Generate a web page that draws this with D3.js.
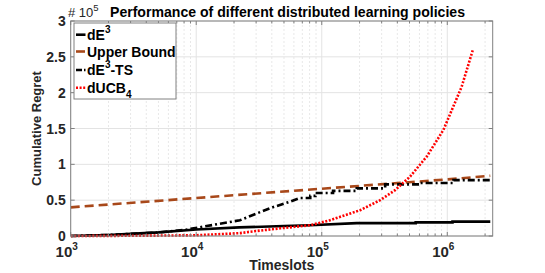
<!DOCTYPE html>
<html lang="en">
<head>
<meta charset="utf-8">
<style>
  body { margin: 0; background: #fff; }
  text { font-family: "Liberation Sans", Arial, sans-serif; }
</style>
</head>
<body>
<div id="chart"></div>
<script src="https://d3js.org/d3.v7.min.js"></script>
<script>
// values, y in units of 1e5
var ubX = [1e3, 1e4, 1e5, 1e6, 2.2e6]
var ubY = [0.40, 0.53, 0.66, 0.79, 0.84]

var de3X = [1e3, 2e3, 3e3, 5e3, 1e4, 2.2e4, 5e4, 8e4, 1.9e5, 5.6e5, 5.6e5, 1.1e6, 1.1e6, 2.2e6]
var de3Y = [0, 0.015, 0.03, 0.05, 0.09, 0.12, 0.14, 0.15, 0.18, 0.18, 0.19, 0.19, 0.2, 0.2]

var tsX = [1e3, 2e3, 3e3, 5e3, 8.4e3, 2.23e4, 2.7e4, 3.9e4, 5.6e4, 6.7e4, 8.1e4, 8.1e4, 8.9e4, 8.9e4,
           1.23e5, 1.23e5, 1.9e5, 1.9e5, 3.2e5, 3.2e5, 6e5, 6e5, 1.12e6, 1.12e6, 2.2e6]
var tsY = [0, 0.015, 0.03, 0.05, 0.09, 0.22, 0.28, 0.39, 0.48, 0.53, 0.53, 0.56, 0.56, 0.60,
           0.60, 0.63, 0.63, 0.665, 0.665, 0.72, 0.72, 0.74, 0.74, 0.78, 0.78]

var ucbX = [1e3, 3e3, 1e4, 2.24e4, 2.7e4, 4.66e4, 8.1e4, 1.16e5, 2.02e5, 2.92e5, 3.84e5, 5.06e5,
            6.87e5, 9.31e5, 1.3e6, 1.6e6]
var ucbY = [0, 0.003, 0.01, 0.04, 0.06, 0.107, 0.15, 0.22, 0.36, 0.5, 0.64, 0.83, 1.11, 1.48, 2.08, 2.6]

var xTicks = [1e3, 1e4, 1e5, 1e6]
var yTicks = [0, 0.5, 1, 1.5, 2, 2.5, 3]
var legendNames = ["dE", "Upper Bound", "dE", "dUCB"]

var width = 545, height = 273
var pLeft = 70.7, pRight = 492.7, pTop = 21, pBottom = 236

var svg = d3.select("#chart").append("svg")
  .attr("width", width).attr("height", height)

var x = d3.scaleLog().domain([1e3, 2.3e6]).range([pLeft, pRight])
var y = d3.scaleLinear().domain([0, 3]).range([pBottom, pTop])

// minor x grid
var minor = []
for (var e = 3; e <= 6; e++) for (var m = 2; m <= 9; m++) {
  var v = m * Math.pow(10, e)
  if (v < 2.3e6) minor.push(v)
}
svg.append("g").selectAll("line").data(minor).enter().append("line")
  .attr("x1", d => x(d)).attr("x2", d => x(d))
  .attr("y1", pTop).attr("y2", pBottom)
  .attr("stroke", "#e8e8e8").attr("stroke-dasharray", "2,2")

svg.append("g").selectAll("line").data(xTicks).enter().append("line")
  .attr("x1", d => x(d)).attr("x2", d => x(d))
  .attr("y1", pTop).attr("y2", pBottom)
  .attr("stroke", "#e3e3e3")

svg.append("g").selectAll("line").data(yTicks).enter().append("line")
  .attr("x1", pLeft).attr("x2", pRight)
  .attr("y1", d => y(d)).attr("y2", d => y(d))
  .attr("stroke", "#e3e3e3")

// series
function pts(xs, ys) { return xs.map((d, i) => [d, ys[i]]) }
var line = d3.line().x(d => x(d[0])).y(d => y(d[1]))

svg.append("clipPath").attr("id", "clip").append("rect")
  .attr("x", pLeft).attr("y", pTop - 2).attr("width", pRight - pLeft).attr("height", pBottom - pTop + 4)
var plot = svg.append("g").attr("clip-path", "url(#clip)")

plot.append("path").datum(pts(ubX, ubY)).attr("d", line)
  .attr("fill", "none").attr("stroke", "#a8481a").attr("stroke-width", 2.6)
  .attr("stroke-dasharray", "9,5")
plot.append("path").datum(pts(de3X, de3Y)).attr("d", line)
  .attr("fill", "none").attr("stroke", "#000").attr("stroke-width", 2.6)
plot.append("path").datum(pts(tsX, tsY)).attr("d", line)
  .attr("fill", "none").attr("stroke", "#000").attr("stroke-width", 2.6)
  .attr("stroke-dasharray", "7,3,2,3")
plot.append("path").datum(pts(ucbX, ucbY)).attr("d", line)
  .attr("fill", "none").attr("stroke", "#ff0000").attr("stroke-width", 2.6)
  .attr("stroke-dasharray", "2,1.6")

// axes box and ticks
var ax = svg.append("g").attr("stroke", "#808080").attr("stroke-width", 1)
ax.append("rect").attr("x", pLeft).attr("y", pTop).attr("width", pRight - pLeft).attr("height", pBottom - pTop)
  .attr("fill", "none")
var allX = xTicks.concat(minor)
allX.forEach(function(d) {
  var len = xTicks.indexOf(d) >= 0 ? 4 : 2.5
  ax.append("line").attr("x1", x(d)).attr("x2", x(d)).attr("y1", pBottom).attr("y2", pBottom - len)
  ax.append("line").attr("x1", x(d)).attr("x2", x(d)).attr("y1", pTop).attr("y2", pTop + len)
})
yTicks.forEach(function(d) {
  ax.append("line").attr("x1", pLeft).attr("x2", pLeft + 4).attr("y1", y(d)).attr("y2", y(d))
  ax.append("line").attr("x1", pRight).attr("x2", pRight - 4).attr("y1", y(d)).attr("y2", y(d))
})

// tick labels
svg.append("g").selectAll("text").data(yTicks).enter().append("text")
  .attr("x", pLeft - 5).attr("y", d => y(d) + 5)
  .attr("text-anchor", "end").attr("font-size", 14).attr("font-weight", "bold").attr("fill", "#262626")
  .text(d => d)

var xl = svg.append("g").selectAll("text").data(xTicks).enter().append("text")
  .attr("x", d => x(d) - 4).attr("y", 257)
  .attr("text-anchor", "middle").attr("font-size", 15).attr("font-weight", "bold").attr("fill", "#262626")
xl.append("tspan").text("10")
xl.append("tspan").attr("font-size", 10).attr("dy", -7).text(d => Math.round(Math.log10(d)))

svg.append("text").attr("x", (pLeft + pRight) / 2).attr("y", 270)
  .attr("text-anchor", "middle").attr("font-size", 14).attr("font-weight", "bold").attr("fill", "#262626")
  .text("Timeslots")

svg.append("text").attr("transform", "translate(41," + (pTop + pBottom) / 2 + ") rotate(-90)")
  .attr("text-anchor", "middle").attr("font-size", 13).attr("font-weight", "bold").attr("fill", "#262626")
  .text("Cumulative Regret")

// exponent label and title
var ex = svg.append("text").attr("x", 68).attr("y", 17).attr("font-size", 13).attr("fill", "#262626")
ex.append("tspan").text("# 10")
ex.append("tspan").attr("font-size", 9.5).attr("dy", -6).text("5")

svg.append("text").attr("x", 287.5).attr("y", 16.5)
  .attr("text-anchor", "middle").attr("font-size", 15).attr("font-weight", "bold").attr("fill", "#000")
  .attr("textLength", 355).attr("lengthAdjust", "spacingAndGlyphs")
  .text("Performance of different distributed learning policies")

// legend
var lg = svg.append("g")
lg.append("rect").attr("x", 74).attr("y", 23).attr("width", 102).attr("height", 76)
  .attr("fill", "#fff").attr("stroke", "#808080")
var rows = [34.7, 51.5, 70, 87.7]
var styles = [
  { c: "#000", d: null },
  { c: "#a8481a", d: "9,5" },
  { c: "#000", d: "6,2,2,2" },
  { c: "#ff0000", d: "2,1.6" }
]
rows.forEach(function(ry, i) {
  lg.append("line").attr("x1", 76).attr("x2", 85.5).attr("y1", ry).attr("y2", ry)
    .attr("stroke", styles[i].c).attr("stroke-width", 2.6)
    .attr("stroke-dasharray", styles[i].d)
  var t = lg.append("text").attr("x", 87).attr("y", ry + 5)
    .attr("font-size", 14).attr("font-weight", "bold").attr("fill", "#000")
  t.append("tspan").text(legendNames[i])
  if (i === 0) t.append("tspan").attr("font-size", 10).attr("dy", -7).text("3")
  if (i === 2) {
    t.append("tspan").attr("font-size", 10).attr("dy", -7).text("3")
    t.append("tspan").attr("dy", 7).text("-TS")
  }
  if (i === 3) t.append("tspan").attr("font-size", 10).attr("dy", 5).text("4")
})
</script>
</body>
</html>
